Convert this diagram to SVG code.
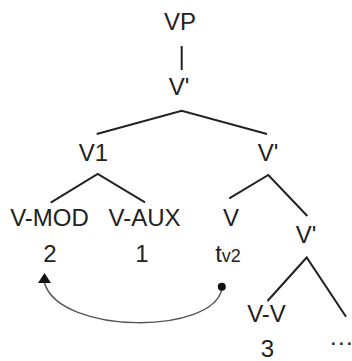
<svg xmlns="http://www.w3.org/2000/svg" width="352" height="361" viewBox="0 0 352 361">
<style>
text{font-family:"Liberation Sans",Arial,sans-serif;font-size:24px;fill:#222;text-anchor:middle}
.e{stroke:#222;stroke-width:2;fill:none}
.mv{stroke:#555;stroke-width:1.5;fill:none}
</style>
<defs>
<marker id="ah" viewBox="0 0 10 13" refX="0" refY="6.5" markerWidth="10" markerHeight="13" markerUnits="userSpaceOnUse" orient="270">
<path d="M0,0 L10,6.5 L0,13 z" fill="#111"/>
</marker>
</defs>
<rect width="352" height="361" fill="#fff"/>
<g id="connectors">
<line class="e" x1="181.7" y1="46" x2="181.7" y2="70"/>
<polyline class="e" points="96.7,134 181.7,110.7 267,134"/>
<polyline class="e" points="50.7,202.7 97.7,174 145,202.3"/>
<polyline class="e" points="229.3,198.3 268.3,175 307.3,216"/>
<polyline class="e" points="267.5,301 306.7,257.5 346,316.7"/>
<path class="mv" d="M222 288 C215 335, 60 335, 44.5 283" marker-end="url(#ah)"/>
<circle cx="221.8" cy="286.7" r="4" fill="#111"/>
</g>
<g id="n-vp"><text x="180" y="30">VP</text></g>
<g id="n-vbar1"><text x="179" y="94.5">V'</text></g>
<g id="n-v1"><text x="93.5" y="160.7">V1</text></g>
<g id="n-vbar2"><text x="268" y="160.7">V'</text></g>
<g id="n-vmod"><text x="49.5" y="225.7">V-MOD</text><text x="50" y="261.7">2</text></g>
<g id="n-vaux"><text x="144.5" y="225.7">V-AUX</text><text x="142" y="261.7">1</text></g>
<g id="n-v"><text x="231" y="225.7">V</text><text x="228" y="261.7">t<tspan font-size="18">v2</tspan></text></g>
<g id="n-vbar3"><text x="306" y="243">V'</text></g>
<g id="n-vv"><text x="266.5" y="321.7">V-V</text><text x="267.5" y="357">3</text></g>
<g id="n-dots"><text x="330 338 346" y="344.5" font-size="16" style="text-anchor:start">...</text></g>
</svg>
